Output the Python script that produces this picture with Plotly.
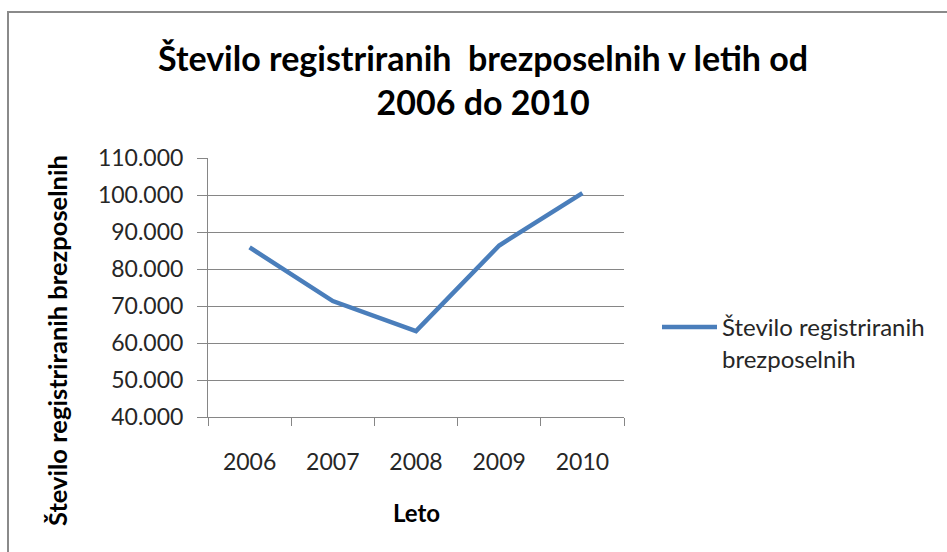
import plotly.graph_objects as go

years = ["2006", "2007", "2008", "2009", "2010"]
unemployed = [85836, 71336, 63216, 86354, 100504]
series_name = "Število registriranih<br>brezposelnih"
title_text = "Število registriranih  brezposelnih v letih od<br>2006 do 2010"
y_title = "Število registriranih brezposelnih"
x_title = "Leto"

W, H = 947, 552
L, R, T, B = 208, 624, 158, 417  # plot area pixel bounds

def px(x):
    return (x - L) / (R - L)

def py(y):
    return (B - y) / (B - T)

FONT = "Lato, Open Sans, sans-serif"
GRAY = "#868686"

fig = go.Figure()
fig.add_trace(go.Scatter(
    x=years, y=unemployed, mode="lines", name=series_name,
    line=dict(color="#4A7EBB", width=4.5),
))

fig.update_layout(
    width=W, height=H,
    margin=dict(l=L, r=W - R, t=T, b=H - B, pad=0),
    paper_bgcolor="white", plot_bgcolor="white",
    separators=",.",
    showlegend=True,
    legend=dict(x=px(657), y=py(305), xanchor="left", yanchor="top",
                font=dict(family=FONT, size=24, color="#262626"),
                valign="top", bgcolor="rgba(0,0,0,0)", itemwidth=55,
                tracegroupgap=0),
    font=dict(family=FONT, color="#262626"),
)

fig.update_xaxes(
    type="category", range=[-0.5, 4.5],
    showline=True, linecolor=GRAY, linewidth=1,
    ticks="outside", tickson="boundaries", ticklen=8, tickcolor=GRAY,
    showgrid=False, tickfont=dict(family=FONT, size=23, color="#262626"),
    ticklabelstandoff=24,
)
fig.update_yaxes(
    range=[40000, 110000], dtick=10000, tickformat=",d",
    showline=True, linecolor=GRAY, linewidth=1,
    ticks="outside", ticklen=10, tickcolor=GRAY,
    showgrid=True, gridcolor=GRAY, gridwidth=1,
    zeroline=False,
    tickfont=dict(family=FONT, size=23, color="#262626"),
    ticklabelstandoff=9,
)

# Title
fig.add_annotation(text="<b>" + title_text + "</b>", xref="paper", yref="paper",
                   x=px(483), y=py(80), xanchor="center", yanchor="middle",
                   showarrow=False, font=dict(family=FONT, size=34, color="black"))
# Axis titles
fig.add_annotation(text="<b>" + y_title + "</b>", xref="paper", yref="paper",
                   x=px(57), y=py(341), xanchor="center", yanchor="middle",
                   textangle=-90, showarrow=False,
                   font=dict(family=FONT, size=25.5, color="black"))
fig.add_annotation(text="<b>" + x_title + "</b>", xref="paper", yref="paper",
                   x=px(416), y=py(512), xanchor="center", yanchor="middle",
                   showarrow=False, font=dict(family=FONT, size=24, color="black"))

# Chart border
fig.add_shape(type="rect", xref="paper", yref="paper",
              x0=px(8), x1=px(960), y0=py(570), y1=py(12),
              line=dict(color="#8a8a8a", width=2), fillcolor="rgba(0,0,0,0)",
              layer="below")

fig.write_html("out.html", config={"displayModeBar": False},
               post_script="document.body.style.margin='0';")
